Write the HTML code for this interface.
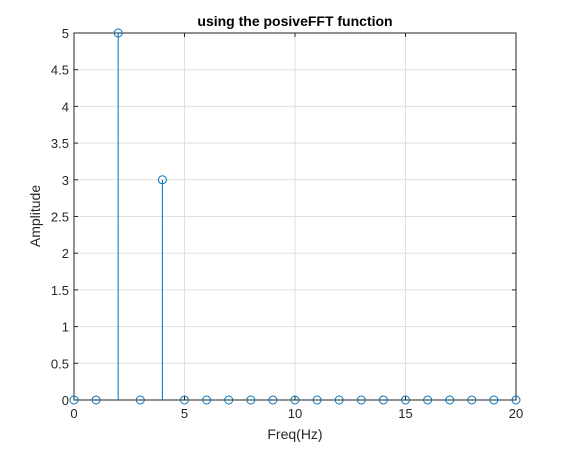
<!DOCTYPE html>
<html><head><meta charset="utf-8"><style>
html,body{margin:0;padding:0;background:#fff;}
svg{display:block;font-family:"Liberation Sans","DejaVu Sans",sans-serif;}
</style></head><body>
<svg id="chart" width="570" height="450">
<rect x="0" y="0" width="570" height="450" fill="#fff"/>
<rect x="74" y="33" width="442" height="367" fill="#fff"/>
<g id="grid"></g>
<g id="axes"></g>
<g id="marks"></g>
<text x="295" y="26" text-anchor="middle" font-size="14" font-weight="bold" fill="#000">using the posiveFFT function</text>
<text x="295" y="439" text-anchor="middle" font-size="14" fill="#262626">Freq(Hz)</text>
<text transform="translate(40,216) rotate(-90)" text-anchor="middle" font-size="14" fill="#262626">Amplitude</text>
</svg>
<script>
const freqs = [0,1,2,3,4,5,6,7,8,9,10,11,12,13,14,15,16,17,18,19,20];
const amps = [0,0,5,0,3,0,0,0,0,0,0,0,0,0,0,0,0,0,0,0,0];
const xTicks = [0,5,10,15,20];
const yTicks = [0,0.5,1,1.5,2,2.5,3,3.5,4,4.5,5];
const L=74,R=516,T=33,B=400;
const xs=v=>L+(v-0)/(20-0)*(R-L);
const ys=v=>B-(v-0)/(5-0)*(B-T);
const NS='http://www.w3.org/2000/svg';
function mk(tag,attrs,parent){const e=document.createElementNS(NS,tag);for(const k in attrs)e.setAttribute(k,attrs[k]);parent.appendChild(e);return e;}
const grid=document.getElementById('grid'),axes=document.getElementById('axes'),marks=document.getElementById('marks');
xTicks.forEach(t=>{
  const g=mk('line',{x1:xs(t),x2:xs(t),y1:T,y2:B,stroke:'#dfdfdf','stroke-width':1},grid);
  
  
  const tk=mk('line',{x1:xs(t),x2:xs(t),y1:B,y2:B-4,stroke:'#262626'},axes);
  
  
  const tk2=mk('line',{x1:xs(t),x2:xs(t),y1:T,y2:T+4,stroke:'#262626'},axes);
  
  
  const tx=mk('text',{x:xs(t),y:B+18,'text-anchor':'middle','font-size':13,fill:'#262626'},axes);
  tx.textContent=t;
  
  
});
yTicks.forEach(t=>{
  const g=mk('line',{x1:L,x2:R,y1:ys(t),y2:ys(t),stroke:'#dfdfdf','stroke-width':1},grid);
  
  
  const tk=mk('line',{x1:L,x2:L+4,y1:ys(t),y2:ys(t),stroke:'#262626'},axes);
  
  
  const tk2=mk('line',{x1:R,x2:R-4,y1:ys(t),y2:ys(t),stroke:'#262626'},axes);
  
  
  const tx=mk('text',{x:L-5,y:ys(t)+5,'text-anchor':'end','font-size':13,fill:'#262626'},axes);
  tx.textContent=t;
  
  
});
const box=mk('rect',{x:L,y:T,width:R-L,height:B-T,fill:'none',stroke:'#262626','stroke-width':1},axes);


freqs.forEach((f,i)=>{
  const s=mk('line',{x1:xs(f),x2:xs(f),y1:ys(0),y2:ys(amps[i]),stroke:'#0072BD','stroke-width':1},marks);
  
  
  const c=mk('circle',{cx:xs(f),cy:ys(amps[i]),r:4,fill:'none',stroke:'#0072BD','stroke-width':1},marks);
  
  
});
</script>
</body></html>
